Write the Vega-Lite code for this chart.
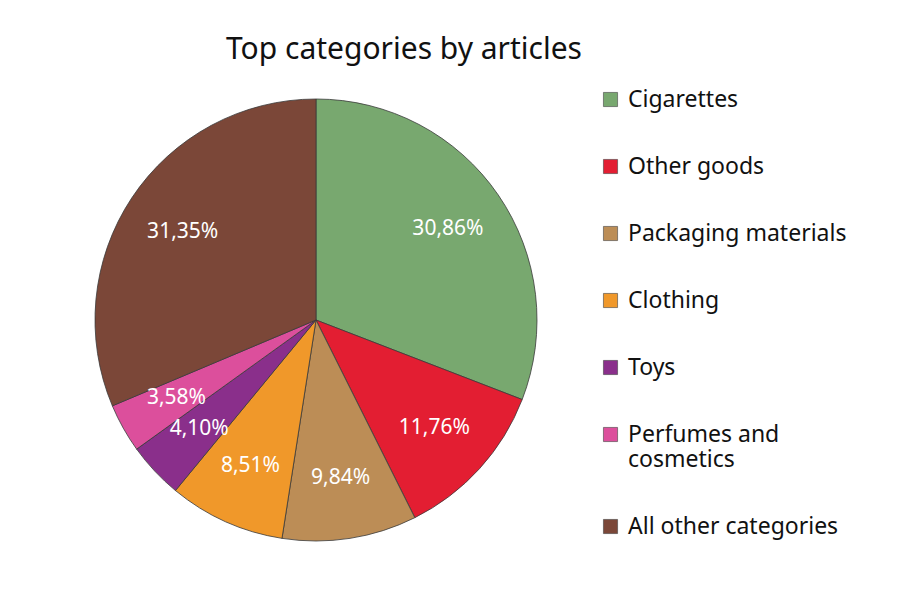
{
  "$schema": "https://vega.github.io/schema/vega-lite/v6.json",
  "autosize": "none",
  "width": 442,
  "height": 442,
  "padding": {"left": 95, "top": 99, "right": 363, "bottom": 59},
  "background": "#ffffff",
  "title": {
    "text": "Top categories by articles",
    "font": "Noto Sans",
    "fontSize": 30,
    "fontWeight": "normal",
    "color": "#111111",
    "anchor": "middle",
    "dx": 88,
    "offset": 23
  },
  "data": {
    "values": [
      {"category": "Cigarettes", "value": 30.86, "label": "30,86%", "rank": 1},
      {"category": "Other goods", "value": 11.76, "label": "11,76%", "rank": 2},
      {"category": "Packaging materials", "value": 9.84, "label": "9,84%", "rank": 3},
      {"category": "Clothing", "value": 8.51, "label": "8,51%", "rank": 4},
      {"category": "Toys", "value": 4.10, "label": "4,10%", "rank": 5},
      {"category": "Perfumes and cosmetics", "value": 3.58, "label": "3,58%", "rank": 6},
      {"category": "All other categories", "value": 31.35, "label": "31,35%", "rank": 7}
    ]
  },
  "encoding": {
    "theta": {"field": "value", "type": "quantitative", "stack": true},
    "order": {"field": "rank", "type": "quantitative"}
  },
  "layer": [
    {
      "mark": {"type": "arc", "stroke": "#3a3a3a", "strokeWidth": 0.8},
      "encoding": {
        "color": {
          "field": "category",
          "type": "nominal",
          "sort": null,
          "scale": {
            "domain": ["Cigarettes", "Other goods", "Packaging materials", "Clothing", "Toys", "Perfumes and cosmetics", "All other categories"],
            "range": ["#78a86f", "#e31e32", "#bc8d56", "#f0982a", "#8a2f8b", "#dc4f9c", "#7b4738"]
          },
          "legend": {
            "title": null,
            "orient": "none",
            "legendX": 504,
            "legendY": -11,
            "symbolType": "square",
            "symbolSize": 200,
            "symbolStrokeColor": "#444444",
            "symbolStrokeWidth": 0.6,
            "labelFont": "Noto Sans",
            "labelFontSize": 23,
            "labelColor": "#111111",
            "labelOffset": 6,
            "labelLimit": 400,
            "rowPadding": 43,
            "labelExpr": "datum.label == 'Perfumes and cosmetics' ? ['Perfumes and', 'cosmetics'] : datum.label"
          }
        }
      }
    },
    {
      "mark": {"type": "text", "radius": 160, "font": "Noto Sans", "fontSize": 21, "color": "#ffffff"},
      "encoding": {
        "text": {"field": "label", "type": "nominal"}
      }
    }
  ]
}
